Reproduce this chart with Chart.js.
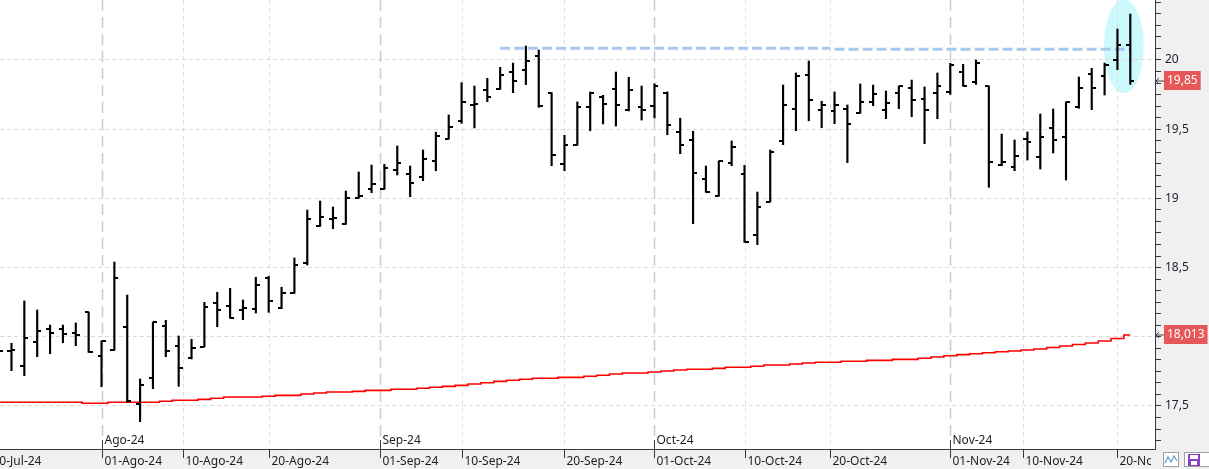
<!DOCTYPE html>
<html><head><meta charset="utf-8">
<script src="https://cdn.jsdelivr.net/npm/chart.js@4.4.1/dist/chart.umd.min.js"></script>
<style>html,body{margin:0;padding:0;background:#f0f0f0;overflow:hidden}canvas{display:block}</style>
</head><body>
<canvas id="c" width="1209" height="469" style="width:1209px;height:469px"></canvas>
<script>
// ---- DATA ----
const firstDate = '2024-07-22';
const lastDate = '2024-11-21';
const opens = [17.905,17.897,17.787,17.962,18.054,18.054,18.025,18.179,
 17.859,17.902,18.069,17.512,17.702,18.078,17.934,17.845,17.928,18.244,18.220,18.194,18.201,18.425,18.206,18.314,18.535,18.798,18.851,18.813,19.001,19.066,
 19.066,19.203,19.174,19.152,19.270,19.431,19.559,19.673,19.781,19.788,19.911,19.928,20.029,19.764,19.246,19.384,19.658,19.733,19.788,19.641,19.658,
 19.665,19.764,19.478,19.420,19.138,19.015,19.254,19.174,18.736,18.974,19.415,19.644,19.892,19.637,19.632,19.644,19.615,19.697,19.637,19.759,19.796,19.716,19.759,
 19.767,19.911,19.839,19.810,19.241,19.225,19.427,19.299,19.509,19.444,19.658,19.899,19.884,20.000,20.108];
const highs = [17.977,17.953,18.259,18.194,18.085,18.085,18.100,18.179,
 17.970,18.540,18.302,17.695,18.107,18.119,18.006,17.982,18.249,18.322,18.350,18.266,18.430,18.437,18.358,18.569,18.916,18.981,18.938,19.053,19.191,19.241,
 19.246,19.379,19.234,19.350,19.478,19.603,19.836,19.812,19.868,19.947,19.978,20.101,20.072,19.764,19.456,19.697,19.769,19.745,19.913,19.875,19.812,
 19.829,19.769,19.579,19.485,19.234,19.270,19.415,19.239,19.046,19.350,19.819,19.906,19.993,19.702,19.769,19.675,19.827,19.819,19.776,19.812,19.855,19.805,19.906,
 19.976,19.969,20.000,19.812,19.465,19.422,19.480,19.610,19.646,19.697,19.877,19.940,19.978,20.224,20.332];
const lows = [17.861,17.755,17.719,17.856,17.878,17.957,17.936,17.888,
 17.639,17.902,17.527,17.387,17.625,17.856,17.642,17.840,17.928,18.073,18.134,18.124,18.172,18.177,18.203,18.314,18.519,18.798,18.781,18.813,19.001,19.041,
 19.066,19.169,19.012,19.128,19.200,19.429,19.543,19.509,19.699,19.788,19.764,19.822,19.658,19.236,19.200,19.384,19.489,19.538,19.523,19.632,19.566,
 19.581,19.460,19.323,18.817,19.044,19.015,19.236,18.683,18.666,18.974,19.388,19.489,19.561,19.511,19.540,19.258,19.615,19.670,19.576,19.648,19.590,19.395,19.576,
 19.752,19.810,19.824,19.080,19.236,19.200,19.277,19.212,19.328,19.133,19.651,19.641,19.747,19.930,19.824];
const closes = [17.897,17.905,17.989,18.042,18.025,18.018,18.011,17.892,
 17.970,18.423,17.536,17.650,18.107,17.897,17.775,17.917,18.217,18.191,18.134,18.206,18.374,18.257,18.317,18.517,18.849,18.863,18.856,19.001,19.015,19.102,
 19.217,19.254,19.109,19.283,19.449,19.514,19.697,19.682,19.731,19.892,19.846,19.991,19.665,19.314,19.384,19.658,19.762,19.680,19.673,19.781,19.637,
 19.812,19.528,19.384,19.181,19.044,19.268,19.369,18.683,18.936,19.335,19.673,19.882,19.709,19.673,19.673,19.535,19.697,19.754,19.689,19.812,19.709,19.637,19.810,
 19.966,19.810,19.976,19.261,19.261,19.306,19.405,19.444,19.420,19.697,19.796,19.796,19.964,20.108,19.850];
const ma200 = [17.527,17.527,17.527,17.527,17.527,17.527,17.527,17.520,
 17.520,17.527,17.527,17.527,17.527,17.534,17.541,17.541,17.548,17.556,17.565,17.565,17.565,17.570,17.577,17.577,17.587,17.594,17.601,17.601,17.606,17.613,
 17.613,17.621,17.621,17.628,17.635,17.642,17.649,17.659,17.668,17.678,17.686,17.693,17.700,17.700,17.707,17.707,17.715,17.722,17.731,17.738,17.738,
 17.746,17.753,17.760,17.765,17.765,17.772,17.780,17.780,17.787,17.796,17.796,17.803,17.811,17.816,17.816,17.823,17.823,17.830,17.830,17.837,17.837,17.845,17.854,
 17.863,17.871,17.878,17.885,17.892,17.897,17.905,17.912,17.923,17.933,17.944,17.955,17.970,17.988,18.013];
const tickDates = ['2024-07-20','2024-08-01','2024-08-10','2024-08-20','2024-09-01','2024-09-10','2024-09-20','2024-10-01','2024-10-10','2024-10-20','2024-11-01','2024-11-10','2024-11-20'];
const tickLabels = ['20-Jul-24','01-Ago-24','10-Ago-24','20-Ago-24','01-Sep-24','10-Sep-24','20-Sep-24','01-Oct-24','10-Oct-24','20-Oct-24','01-Nov-24','10-Nov-24','20-Nov-24'];
const monthDates = ['2024-08-01','2024-09-01','2024-10-01','2024-11-01'];
const monthLabels = ['Ago-24','Sep-24','Oct-24','Nov-24'];
const resistanceA = {from:'2024-09-13', to:'2024-10-20', value:20.085};
const resistanceB = {from:'2024-10-21', to:'2024-11-21', value:20.077};
const highlight = {from:'2024-11-20', to:'2024-11-21', top:20.44, bottom:19.76};

// ---- helpers ----
const DAY = 86400000;
function toT(s){const [y,m,d]=s.split('-').map(Number);return Date.UTC(y,m-1,d);}
function isWd(t){const d=new Date(t).getUTCDay();return d>0&&d<6;}
function stepW(a,b){return (isWd(a)&&isWd(b))?1:1/3;}
function dayPos(s){
  const t0=toT(firstDate), t=toT(s); let p=0;
  if(t>=t0){for(let c=t0;c<t;c+=DAY)p+=stepW(c,c+DAY);} else {for(let c=t0;c>t;c-=DAY)p-=stepW(c-DAY,c);}
  return p;
}
const tradingDates=[];for(let c=toT(firstDate);c<=toT(lastDate);c+=DAY){if(isWd(c))tradingDates.push(c);}
const idx = opens.map((_,i)=>i);

function tickImg(side){const c=document.createElement('canvas');c.width=8;c.height=2;const g=c.getContext('2d');g.fillStyle='#000';g.fillRect(side<0?0:4,0,4,2);return c;}
const openImg=tickImg(-1), closeImg=tickImg(1);

const yMax = 20.4335, yMin = 17.1893;
const FONT = '"Noto Sans", "DejaVu Sans", sans-serif';
const isMajor = v => Math.abs(v*2-Math.round(v*2))<1e-6;
const fmt = v => (Math.round(v*1000)/1000).toString().replace('.',',');

const bgPlugin = {
  id:'bg',
  beforeDraw(chart){
    const {ctx, chartArea:a} = chart;
    ctx.save();
    ctx.fillStyle='#f0f0f0';ctx.fillRect(0,0,chart.width,chart.height);
    ctx.fillStyle='#ffffff';ctx.fillRect(a.left,a.top,a.right-a.left,a.bottom-a.top);
    const xs=chart.scales.x, ys=chart.scales.y;
    const p1=xs.getPixelForValue(dayPos(highlight.from)), p2=xs.getPixelForValue(dayPos(highlight.to));
    const cx=(p1+p2)/2, rx=(p2-p1)*1.55;
    const yt=ys.getPixelForValue(highlight.top), yb=ys.getPixelForValue(highlight.bottom);
    ctx.beginPath();ctx.rect(a.left,a.top,a.right-a.left,a.bottom-a.top);ctx.clip();
    ctx.beginPath();ctx.ellipse(cx,(yt+yb)/2,rx,(yb-yt)/2,0,0,Math.PI*2);
    ctx.fillStyle='#ccfafc';ctx.fill();
    ctx.restore();
  },
  beforeDatasetsDraw(chart){
    const {ctx, chartArea:a} = chart; const xs=chart.scales.x;
    ctx.save();
    ctx.beginPath();ctx.rect(a.left,a.top,a.right-a.left,a.bottom-a.top);ctx.clip();
    tickDates.forEach(d=>{
      const px=Math.round(xs.getPixelForValue(dayPos(d)))+0.5;
      const month=monthDates.includes(d);
      ctx.beginPath();
      if(month){ctx.strokeStyle='#cccccc';ctx.lineWidth=1.5;ctx.setLineDash([11,6]);ctx.moveTo(px,a.top);ctx.lineTo(px,a.bottom-9);}
      else {ctx.strokeStyle='#dcdcdc';ctx.lineWidth=1;ctx.setLineDash([4,4]);ctx.moveTo(px,a.top);ctx.lineTo(px,a.bottom);}
      ctx.stroke();
    });
    ctx.restore();
  },
  afterDraw(chart){
    const {ctx, chartArea:a} = chart; const xs=chart.scales.x, ys=chart.scales.y;
    ctx.save();
    ctx.strokeStyle='#3a3a3a';ctx.lineWidth=1;ctx.setLineDash([]);
    ctx.beginPath();ctx.moveTo(0,a.bottom+0.5);ctx.lineTo(a.right,a.bottom+0.5);ctx.stroke();
    ctx.font='12px '+FONT;ctx.textBaseline='middle';ctx.textAlign='left';
    ctx.save();ctx.beginPath();ctx.rect(0,a.bottom,a.right-4,chart.height-a.bottom);ctx.clip();
    tickDates.forEach((d,i)=>{
      const px=Math.round(xs.getPixelForValue(dayPos(d)))+0.5;
      ctx.strokeStyle='#3a3a3a';ctx.beginPath();ctx.moveTo(px,a.bottom);ctx.lineTo(px,a.bottom+9);ctx.stroke();
      ctx.fillStyle='#1e1e1e';ctx.fillText(tickLabels[i],px+2,a.bottom+13);
    });
    ctx.restore();
    monthDates.forEach((d,i)=>{
      const px=Math.round(xs.getPixelForValue(dayPos(d)))+0.5;
      ctx.strokeStyle='#3a3a3a';ctx.beginPath();ctx.moveTo(px,a.bottom-9);ctx.lineTo(px,a.bottom);ctx.stroke();
      ctx.fillStyle='#1e1e1e';ctx.fillText(monthLabels[i],px+2,a.bottom-8);
    });
    const boxes=[closes[closes.length-1], ma200[ma200.length-1]];
    boxes.forEach(v=>{
      const py=Math.round(ys.getPixelForValue(v))-0.5;
      const txt=fmt(v); const w=ctx.measureText(txt).width+6;
      ctx.fillStyle='#e65757';ctx.fillRect(a.right+9,py-9.5,w,19);
      ctx.fillStyle='#ffffff';ctx.fillText(txt,a.right+12,py+0.5);
      ctx.strokeStyle='#444';ctx.lineWidth=1;ctx.beginPath();
      ctx.moveTo(a.right+9,py+0.5);ctx.lineTo(a.right+1,py+0.5);
      ctx.moveTo(a.right+4,py-2.5);ctx.lineTo(a.right+1,py+0.5);ctx.lineTo(a.right+4,py+3.5);ctx.stroke();
    });
    ctx.fillStyle='#ffffff';ctx.strokeStyle='#a0a0a0';
    ctx.fillRect(1163,452,16,15);ctx.strokeRect(1163.5,452.5,15,14);
    ctx.strokeStyle='#5b9bd5';ctx.lineWidth=1.2;ctx.beginPath();
    ctx.moveTo(1165,463);ctx.lineTo(1168,457);ctx.lineTo(1171,462);ctx.lineTo(1174,456);ctx.lineTo(1177,461);ctx.stroke();
    ctx.fillStyle='#ffffff';ctx.strokeStyle='#a0a0a0';ctx.lineWidth=1;
    ctx.fillRect(1184,452,25,15);ctx.strokeRect(1184.5,452.5,26,14);
    ctx.fillStyle='#8a3fc4';ctx.fillRect(1188,454,12,12);
    ctx.fillStyle='#ffffff';ctx.fillRect(1190,455,8,4);ctx.fillRect(1191,461,6,4);
    ctx.restore();
  }
};

const ctx = document.getElementById('c').getContext('2d');
new Chart(ctx, {
  type:'line',
  data:{datasets:[
    {type:'line', data:idx.map(i=>({x:i,y:opens[i]})), showLine:false, pointStyle:openImg, pointRadius:3, pointBorderWidth:0, order:1},
    {type:'line', data:idx.map(i=>({x:i,y:closes[i]})), showLine:false, pointStyle:closeImg, pointRadius:3, pointBorderWidth:0, order:1},
    {type:'bar', data:idx.map(i=>({x:i,y:[lows[i],highs[i]]})), backgroundColor:'#000000', borderWidth:0, barThickness:1.5, grouped:false, order:2},
    {type:'line', data:idx.map(i=>({x:i,y:ma200[i]})), borderColor:'#ff0000', borderWidth:1.6, pointRadius:0, stepped:'middle', order:3},
    {type:'line', data:[{x:dayPos(resistanceA.from),y:resistanceA.value},{x:dayPos(resistanceA.to),y:resistanceA.value}], borderColor:'#a8c8f0', borderWidth:3, borderDash:[10,4], pointRadius:0, order:4},
    {type:'line', data:[{x:dayPos(resistanceB.from),y:resistanceB.value},{x:dayPos(resistanceB.to),y:resistanceB.value}], borderColor:'#a8c8f0', borderWidth:3, borderDash:[10,4], pointRadius:0, order:4}
  ]},
  options:{
    responsive:false, animation:false, devicePixelRatio:1, events:[],
    layout:{autoPadding:false, padding:{left:0,top:0,right:0,bottom:20}},
    plugins:{legend:{display:false}, tooltip:{enabled:false}},
    scales:{
      x:{type:'linear', display:false, min:0.107, max:89.92, offset:false},
      y:{type:'linear', position:'right', min:yMin, max:yMax,
        afterFit(s){s.width=54;s.paddingTop=0;s.paddingBottom=0;s.paddingLeft=0;s.paddingRight=0;},
        afterBuildTicks(s){const t=[];for(let k=Math.ceil(yMin*12);k<=Math.floor(yMax*12);k++)t.push({value:k/12});s.ticks=t;},
        ticks:{autoSkip:false, padding:4, color:'#1e1e2e', font:{family:FONT,size:12},
          callback:(v)=>isMajor(v)?fmt(Math.round(v*2)/2):''},
        grid:{color:c=>(c.tick&&isMajor(c.tick.value))?'#dadada':'rgba(0,0,0,0)', tickColor:'#3a3a3a', tickLength:6, lineWidth:1, drawTicks:true},
        border:{display:true, color:'#3a3a3a', width:1, dash:[4,3]}
      }
    }
  },
  plugins:[bgPlugin]
});
</script>
</body></html>
